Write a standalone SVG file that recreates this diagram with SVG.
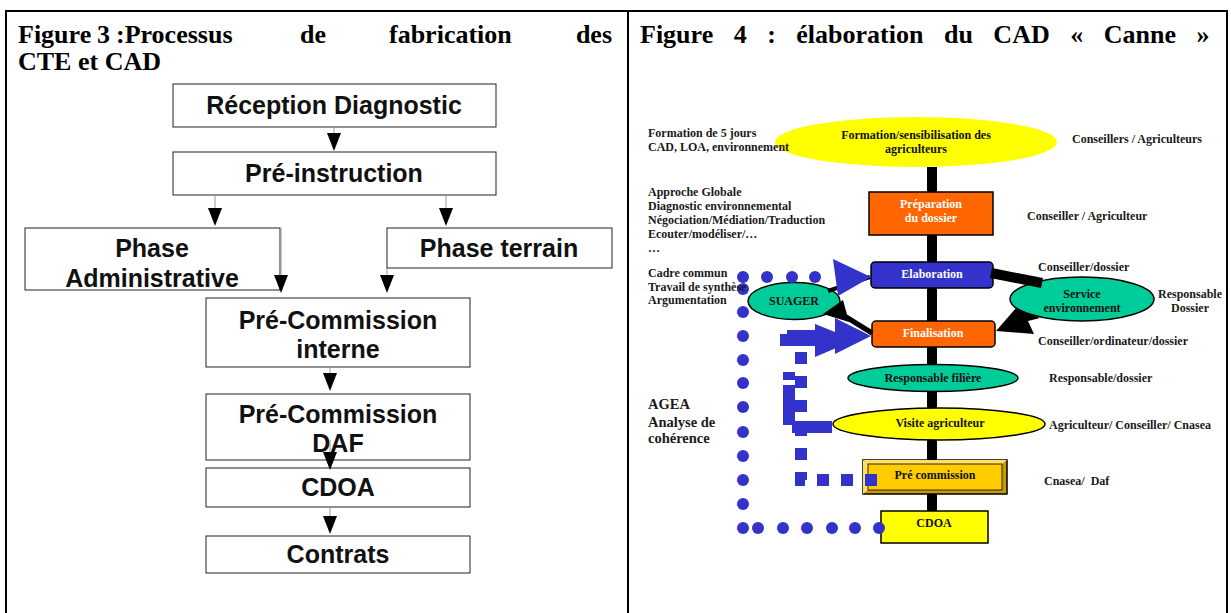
<svg xmlns="http://www.w3.org/2000/svg" width="1231" height="613" viewBox="0 0 1231 613">
<style>
.title{font-family:"Liberation Serif","Times New Roman",serif;font-weight:bold;font-size:26px;fill:#000}
.box{fill:#fff;stroke:#222;stroke-width:1}
.bt{font-family:"Liberation Sans",Arial,sans-serif;font-weight:bold;font-size:25px;text-anchor:middle;fill:#111}
.ln{stroke:#999;stroke-width:1;fill:none}
.ah{fill:#000}
.lab{font-family:"Liberation Serif","Times New Roman",serif;font-weight:bold;font-size:12px;fill:#1a1a1a}
.big{font-size:14.5px}
.nt{font-family:"Liberation Serif","Times New Roman",serif;font-weight:bold;font-size:12px;text-anchor:middle;fill:#111}
.wt{fill:#fff}
.ns{stroke:#000;stroke-width:1.5}
.trunk{fill:#000}
.bl{fill:#3333CC}
.dash{stroke:#3333CC;fill:none;stroke-width:12}
</style>
<defs>
<polygon id="tri" points="-7,0 7,0 0,18" class="ah"/>
</defs>
<rect x="0" y="0" width="1231" height="613" fill="#fff"/>
<!-- table -->
<rect x="6" y="11" width="1221" height="620" fill="none" stroke="#000" stroke-width="2"/>
<line x1="628" y1="11" x2="628" y2="613" stroke="#000" stroke-width="2"/>

<!-- titles -->
<text class="title" y="43"><tspan x="18">Figure</tspan><tspan x="97">3</tspan><tspan x="116">:Processus</tspan><tspan x="300">de</tspan><tspan x="389">fabrication</tspan><tspan x="612" text-anchor="end">des</tspan></text>
<text class="title" x="18" y="70">CTE et CAD</text>
<text class="title" x="640" y="43" word-spacing="14">Figure 4 : élaboration du CAD « Canne »</text>

<!-- left figure nodes -->
<g id="n-reception"><rect class="box" x="173" y="84" width="323" height="43"/><text class="bt" x="334" y="114">Réception Diagnostic</text></g>
<g id="n-preinstruction"><rect class="box" x="173" y="152" width="323" height="43"/><text class="bt" x="334" y="182">Pré-instruction</text></g>
<g id="n-phaseadmin"><rect class="box" x="25" y="228" width="255" height="62"/><text class="bt" x="152" y="257">Phase</text><text class="bt" x="152" y="287">Administrative</text></g>
<g id="n-phaseterrain"><rect class="box" x="387" y="228" width="225" height="40"/><text class="bt" x="499" y="257">Phase terrain</text></g>
<g id="n-pci"><rect class="box" x="206" y="298" width="264" height="69"/><text class="bt" x="338" y="329">Pré-Commission</text><text class="bt" x="338" y="358">interne</text></g>
<g id="n-pcdaf"><rect class="box" x="206" y="394" width="264" height="66"/><text class="bt" x="338" y="423">Pré-Commission</text><text class="bt" x="338" y="452">DAF</text></g>
<g id="n-cdoa-l"><rect class="box" x="206" y="468" width="264" height="39"/><text class="bt" x="338" y="496">CDOA</text></g>
<g id="n-contrats"><rect class="box" x="206" y="536" width="264" height="37"/><text class="bt" x="338" y="563">Contrats</text></g>

<!-- left connectors -->
<g id="connectors-left">
<line class="ln" x1="334" y1="127" x2="334" y2="134"/><use href="#tri" x="334" y="133"/>
<line class="ln" x1="215" y1="195" x2="215" y2="209"/><use href="#tri" x="215" y="208"/>
<line class="ln" x1="446" y1="195" x2="446" y2="209"/><use href="#tri" x="446" y="208"/>
<line class="ln" x1="281" y1="228" x2="281" y2="276"/><use href="#tri" x="281" y="275"/>
<line class="ln" x1="387" y1="268" x2="387" y2="276"/><use href="#tri" x="387" y="275"/>
<line class="ln" x1="330" y1="367" x2="330" y2="374"/><use href="#tri" x="330" y="373"/>
<line class="ln" x1="330" y1="440" x2="330" y2="453"/><use href="#tri" x="330" y="452"/>
<line class="ln" x1="330" y1="507" x2="330" y2="517"/><use href="#tri" x="330" y="516"/>
</g>

<!-- right figure nodes -->
<g id="n-formation"><ellipse cx="916" cy="142" rx="141" ry="25" fill="#FFFF00"/><text class="nt" x="916" y="139">Formation/sensibilisation des</text><text class="nt" x="916" y="153">agriculteurs</text></g>
<g id="n-preparation"><rect class="ns" x="869" y="192" width="124" height="43" fill="#FF6600" stroke-width="2"/><text class="nt wt" x="931" y="208">Préparation</text><text class="nt wt" x="931" y="222">du dossier</text></g>
<g id="n-elaboration"><rect class="ns" x="871" y="262" width="122" height="26" rx="4" fill="#3333CC"/><text class="nt wt" x="932" y="278">Elaboration</text></g>
<g id="n-finalisation"><rect class="ns" x="872" y="321" width="123" height="26" rx="4" fill="#FF6600"/><text class="nt wt" x="933" y="337">Finalisation</text></g>
<g id="n-filiere"><ellipse class="ns" cx="933" cy="378" rx="85" ry="13.5" fill="#00CC99"/><text class="nt" x="933" y="382">Responsable filière</text></g>
<g id="n-visite"><ellipse class="ns" cx="939" cy="424" rx="106" ry="16" fill="#FFFF00"/><text class="nt" x="940" y="427">Visite agriculteur</text></g>
<g id="n-precommission"><rect class="ns" x="863" y="460" width="144" height="34" fill="#C89A00"/><polygon points="863,460 1007,460 1002,464 868,464" fill="#FFE066"/><polygon points="863,460 868,464 868,490 863,494" fill="#FFE066"/><rect x="868" y="464" width="134" height="26" fill="#FFCC00" stroke="#000" stroke-width="0.8"/><text class="nt" x="935" y="479">Pré commission</text></g>
<g id="n-cdoa-r"><rect class="ns" x="881" y="511" width="107" height="32" fill="#FFFF00"/><text class="nt" x="934" y="527">CDOA</text></g>
<g id="n-suager"><ellipse class="ns" cx="794" cy="301" rx="46" ry="18.5" fill="#00CC99"/><text class="nt" x="794" y="305">SUAGER</text></g>
<g id="n-service"><ellipse class="ns" cx="1082" cy="299" rx="72" ry="22" fill="#00CC99"/><text class="nt" x="1082" y="298">Service</text><text class="nt" x="1082" y="312">environnement</text></g>

<!-- right connectors -->
<g id="connectors">
<rect class="trunk" x="927" y="167" width="10" height="25"/>
<rect class="trunk" x="927" y="235" width="10" height="27"/>
<rect class="trunk" x="927" y="288" width="10" height="33"/>
<rect class="trunk" x="927" y="347" width="10" height="18"/>
<rect class="trunk" x="927" y="392" width="10" height="16"/>
<rect class="trunk" x="927" y="440" width="10" height="20"/>
<rect class="trunk" x="927" y="494" width="10" height="17"/>
<line x1="991" y1="273" x2="1042" y2="283" stroke="#000" stroke-width="10"/>
<polygon points="996,331 1016,308 1040,318 1028,321 1034,334" fill="#000"/>
<line x1="828" y1="291" x2="870" y2="277" stroke="#000" stroke-width="4"/>
<polygon class="bl" points="833,259 871,277 838,296"/>
<line x1="838" y1="312" x2="872" y2="333" stroke="#000" stroke-width="5"/>
<polygon points="823,314 843,300 849,322" fill="#000"/>
<path class="dash" d="M877,480 H801 V345" stroke-dasharray="12 12"/>
<path class="dash" d="M832,427 H789 V372" stroke-dasharray="40 5"/>
<path class="dash" d="M780,340 H818" stroke-width="8"/>
<rect class="bl" x="787" y="330" width="30" height="6"/>
<polygon class="bl" points="815,324 815,357 855,340"/>
<polygon class="bl" points="835,318 835,354 871,336"/>
<g class="bl">
<circle cx="743" cy="277" r="6"/><circle cx="767" cy="277" r="6"/><circle cx="792" cy="277" r="6"/><circle cx="815" cy="277" r="6"/>
<circle cx="743" cy="289" r="6"/><circle cx="743" cy="312" r="6"/><circle cx="743" cy="336" r="6"/><circle cx="743" cy="360" r="6"/><circle cx="743" cy="383" r="6"/><circle cx="743" cy="407" r="6"/><circle cx="743" cy="432" r="6"/><circle cx="743" cy="456" r="6"/><circle cx="743" cy="480" r="6"/><circle cx="743" cy="504" r="6"/><circle cx="743" cy="528" r="6"/>
<circle cx="758" cy="528" r="6"/><circle cx="783" cy="528" r="6"/><circle cx="807" cy="528" r="6"/><circle cx="832" cy="528" r="6"/><circle cx="855" cy="528" r="6"/><circle cx="879" cy="528" r="6"/>
</g>
</g>

<!-- right labels -->
<g id="labels">
<text class="lab" x="648" y="137">Formation de 5 jours</text>
<text class="lab" x="648" y="151">CAD, LOA, environnement</text>
<text class="lab" x="648" y="196">Approche Globale</text>
<text class="lab" x="648" y="210">Diagnostic environnemental</text>
<text class="lab" x="648" y="224">Négociation/Médiation/Traduction</text>
<text class="lab" x="648" y="238">Ecouter/modéliser/…</text>
<text class="lab" x="648" y="252">…</text>
<text class="lab" x="648" y="277">Cadre commun</text>
<text class="lab" x="648" y="291">Travail de synthèse</text>
<text class="lab" x="648" y="304">Argumentation</text>
<text class="lab big" x="648" y="409">AGEA</text>
<text class="lab big" x="648" y="427">Analyse de</text>
<text class="lab big" x="648" y="443">cohérence</text>
<text class="lab" x="1072" y="143">Conseillers / Agriculteurs</text>
<text class="lab" x="1027" y="220">Conseiller / Agriculteur</text>
<text class="lab" x="1038" y="271">Conseiller/dossier</text>
<text class="lab" x="1190" y="298" text-anchor="middle">Responsable</text>
<text class="lab" x="1190" y="312" text-anchor="middle">Dossier</text>
<text class="lab" x="1038" y="345">Conseiller/ordinateur/dossier</text>
<text class="lab" x="1049" y="382">Responsable/dossier</text>
<text class="lab" x="1049" y="429">Agriculteur/ Conseiller/ Cnasea</text>
<text class="lab" x="1044" y="485">Cnasea/&#160; Daf</text>
</g>
</svg>
